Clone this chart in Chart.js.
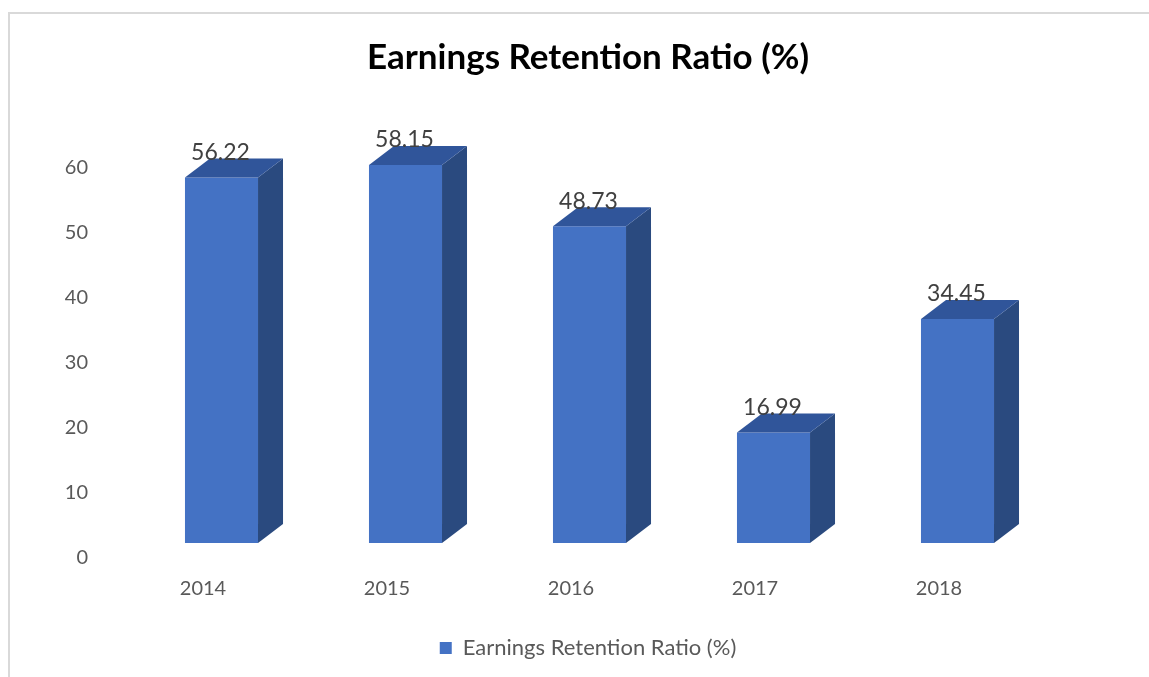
<!DOCTYPE html>
<html>
<head>
<meta charset="utf-8">
<script src="https://cdn.jsdelivr.net/npm/chart.js@4/dist/chart.umd.min.js"></script>
<style>
  html, body { margin: 0; padding: 0; background: #fff; }
  #wrap { position: relative; width: 1149px; height: 677px; overflow: hidden; }
  #frame { position: absolute; left: 8px; top: 12px; width: 1200px; height: 700px;
           border-left: 2px solid #d9d9d9; border-top: 2px solid #d9d9d9; }
  #chart { position: absolute; left: 0; top: 0; }
</style>
</head>
<body>
<div id="wrap">
  <div id="frame"></div>
  <canvas id="chart" width="1149" height="677"></canvas>
</div>
<script>
const years = ['2014', '2015', '2016', '2017', '2018'];
const retention = [56.22, 58.15, 48.73, 16.99, 34.45];
const yTicks = [0, 10, 20, 30, 40, 50, 60];

const seriesName = 'Earnings Retention Ratio (%)';
const frontColor = '#4472C4';
const topColor = '#30559A';
const sideColor = '#2A4A7F';
const labelFont = 'Lato, "Open Sans", sans-serif';

// 3D look: top and side faces drawn off each bar, then the value labels
const depth = { dx: 25, dy: 19 };
const bars3d = {
    id: 'bars3d',
    afterDatasetsDraw(chart) {
        const ctx = chart.ctx;
        const meta = chart.getDatasetMeta(0);
        ctx.save();
        meta.data.forEach((bar, i) => {
            const half = bar.width / 2;
            const l = bar.x - half, r = bar.x + half;
            const t = bar.y, b = bar.base;
            // side
            ctx.fillStyle = sideColor;
            ctx.beginPath();
            ctx.moveTo(r, t);
            ctx.lineTo(r + depth.dx, t - depth.dy);
            ctx.lineTo(r + depth.dx, b - depth.dy);
            ctx.lineTo(r, b);
            ctx.closePath();
            ctx.fill();
            // top
            ctx.fillStyle = topColor;
            ctx.beginPath();
            ctx.moveTo(l, t);
            ctx.lineTo(l + depth.dx, t - depth.dy);
            ctx.lineTo(r + depth.dx, t - depth.dy);
            ctx.lineTo(r, t);
            ctx.closePath();
            ctx.fill();
        });
        ctx.fillStyle = '#404040';
        ctx.font = '23px ' + labelFont;
        ctx.textAlign = 'center';
        ctx.textBaseline = 'middle';
        meta.data.forEach((bar, i) => {
            ctx.fillText(retention[i].toFixed(2), bar.x - 1, bar.y - 25);
        });
        ctx.restore();
    }
};

new Chart(document.getElementById('chart'), {
    type: 'bar',
    data: {
        labels: years,
        datasets: [{
            label: seriesName,
            data: retention,
            backgroundColor: frontColor,
            borderWidth: 0,
            categoryPercentage: 1,
            barPercentage: 0.397
        }]
    },
    options: {
        responsive: false,
        animation: false,
        layout: { padding: { left: 27, right: 0, top: 0, bottom: 8 } },
        plugins: {
            title: {
                display: true,
                text: seriesName,
                color: '#000',
                font: { family: labelFont, size: 35, weight: 'bold' },
                padding: { top: 37, bottom: 74 }
            },
            legend: {
                position: 'bottom',
                labels: {
                    color: '#595959',
                    font: { family: labelFont, size: 22 },
                    boxWidth: 12,
                    boxHeight: 12,
                    padding: 10
                }
            },
            tooltip: { enabled: false }
        },
        scales: {
            x: {
                grid: { display: false, drawTicks: false },
                border: { display: false },
                ticks: {
                    color: '#595959',
                    font: { family: labelFont, size: 20 },
                    padding: 34,
                    labelOffset: -18.5
                },
                afterFit: s => { s.height = 84; }
            },
            y: {
                min: 0,
                max: 60,
                grid: { display: false, drawTicks: false },
                border: { display: false },
                afterBuildTicks: s => { s.ticks = yTicks.map(v => ({ value: v })); },
                ticks: {
                    color: '#595959',
                    font: { family: labelFont, size: 20 },
                    padding: 41.5,
                    labelOffset: 15
                },
                afterFit: s => { s.width = 102.5; }
            },
            y2: {
                position: 'right',
                display: true,
                grid: { display: false, drawTicks: false },
                border: { display: false },
                ticks: { display: false },
                afterFit: s => { s.width = 99.5; }
            }
        }
    },
    plugins: [bars3d]
});
</script>
</body>
</html>
